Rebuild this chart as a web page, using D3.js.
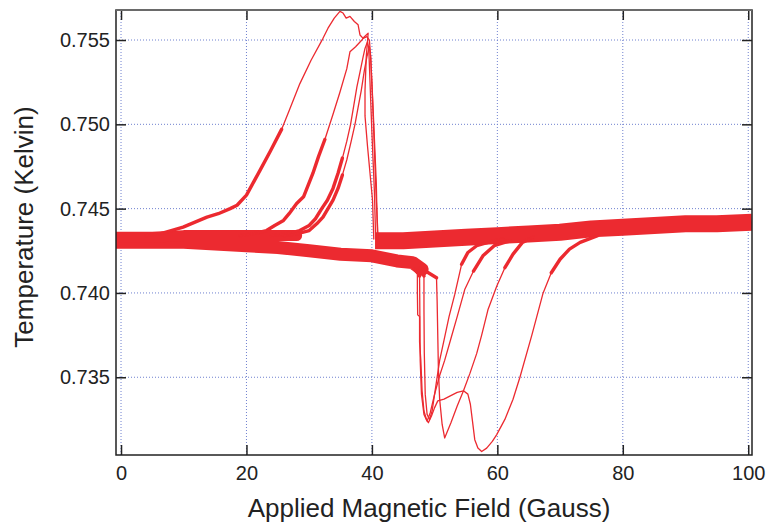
<!DOCTYPE html>
<html>
<head>
<meta charset="utf-8">
<script src="https://cdn.jsdelivr.net/npm/d3@7"></script>
<style>
  body { margin: 0; background: #fff; }
  text { font-family: "Liberation Sans", Arial, Helvetica, sans-serif; }
</style>
</head>
<body>
<svg id="chart" width="777" height="527"></svg>
<script>
// Tick values
const xTicks = [0, 20, 40, 60, 80, 100];
const yTicks = [0.735, 0.740, 0.745, 0.750, 0.755];

// Noisy baselines (field, temperature)
const lowerBand = [[-0.8, 0.7430], [5, 0.7430], [10, 0.7430], [15, 0.7429], [20, 0.7428],
  [25, 0.7427], [30, 0.7425], [35, 0.7423], [40, 0.7422], [44, 0.7419], [46.5, 0.7418],
  [48, 0.7414]];
const tailBand = [[28, 0.7434], [24, 0.7434], [20, 0.7434], [15, 0.7434], [10, 0.7434],
  [5, 0.7433], [-0.8, 0.7433]];
const upperBand = [[40.5, 0.7431], [45, 0.7431], [50, 0.7432], [55, 0.7433], [60, 0.7434],
  [65, 0.7435], [70, 0.7436], [75, 0.7438], [80, 0.7439], [85, 0.7440], [90, 0.7441],
  [95, 0.7441], [100.6, 0.7442]];

// Down-sweeps: jump at ~40 G, then decay back to baseline
const downA = [[41.0, 0.7432], [40.7, 0.7455], [40.4, 0.7485], [40.1, 0.7515], [39.8, 0.7540],
  [39.6, 0.7550], [39.2, 0.7552], [38.6, 0.7551], [38.1, 0.7553], [37.8, 0.7559],
  [37.2, 0.7561], [36.5, 0.7564], [35.9, 0.7563], [35.4, 0.7566], [34.9, 0.7567],
  [34.0, 0.7563], [33.0, 0.7557], [32.2, 0.7551], [30.3, 0.7538], [28.5, 0.7524],
  [26.8, 0.7508], [25.6, 0.7497], [23.8, 0.7484], [22.2, 0.7473], [20.0, 0.7458],
  [18.5, 0.7452], [17.4, 0.7450], [15.5, 0.7447], [13.7, 0.7445], [11.8, 0.7442],
  [9.9, 0.7439], [8.0, 0.7437], [6.2, 0.7435], [4.0, 0.7434]];
const downB = [[40.3, 0.7432], [40.1, 0.7455], [39.6, 0.7475], [39.3, 0.7487], [38.9, 0.7505],
  [38.9, 0.7520], [39.1, 0.7540], [39.4, 0.7554], [38.8, 0.7552], [38.4, 0.7550],
  [37.4, 0.7546], [36.5, 0.7543], [36.0, 0.7533], [34.9, 0.7519], [33.8, 0.7506],
  [32.5, 0.7491], [31.5, 0.7481], [30.6, 0.7471], [29.1, 0.7457], [28.0, 0.7453],
  [26.8, 0.7447], [25.9, 0.7443], [24.5, 0.7440], [23.2, 0.7437], [21.0, 0.7435],
  [19.0, 0.7434]];
const downC = [[40.6, 0.7432], [40.4, 0.7460], [40.0, 0.7495], [39.7, 0.7525], [39.5, 0.7545],
  [39.3, 0.7549], [38.9, 0.7545], [38.6, 0.7540], [38.1, 0.7531], [37.6, 0.7522],
  [37.1, 0.7511], [36.6, 0.7500], [36.0, 0.7490], [35.3, 0.7480], [34.6, 0.7471],
  [33.8, 0.7462], [32.9, 0.7455], [32.0, 0.7450], [31.0, 0.7444], [30.0, 0.7440],
  [28.5, 0.7437], [26.5, 0.7435], [24.0, 0.7434]];
const downD = [[40.9, 0.7432], [40.7, 0.7465], [40.3, 0.7500], [40.0, 0.7525], [39.8, 0.7540],
  [39.6, 0.7546], [39.2, 0.7540], [38.8, 0.7532], [38.3, 0.7520], [37.8, 0.7510],
  [37.3, 0.7500], [36.7, 0.7490], [36.0, 0.7479], [35.3, 0.7470], [34.6, 0.7462],
  [33.8, 0.7455], [33.0, 0.7450], [32.2, 0.7445], [31.2, 0.7441], [30.0, 0.7437],
  [28.0, 0.7435], [26.0, 0.7434]];

// Up-sweeps: dip near 47-51 G, then recovery to the upper baseline
const upE = [[47.5, 0.7415], [49.0, 0.7412], [50.3, 0.7409], [50.4, 0.7395], [50.5, 0.7375],
  [50.6, 0.7355], [50.8, 0.7337], [51.2, 0.7322], [51.6, 0.7314], [52.6, 0.7323],
  [53.6, 0.7333], [54.6, 0.7342], [55.6, 0.7352], [56.7, 0.7364], [57.5, 0.7375],
  [58.5, 0.7390], [59.9, 0.7404], [61.2, 0.7415], [62.5, 0.7423], [64.0, 0.7430],
  [65.7, 0.7433]];
const upF = [[46.8, 0.7414], [47.25, 0.7412], [47.25, 0.7400], [47.3, 0.7387], [47.6, 0.7386],
  [47.6, 0.7371], [47.8, 0.7360], [48.0, 0.7342], [48.3, 0.7330], [48.7, 0.7325],
  [49.0, 0.7323], [49.5, 0.7327], [50.0, 0.7332], [50.5, 0.7336], [51.5, 0.7337],
  [52.5, 0.7339], [53.6, 0.7341], [54.6, 0.7342], [55.3, 0.7340], [55.7, 0.7334],
  [56.0, 0.7325], [56.4, 0.7313], [56.9, 0.7308], [57.5, 0.7306], [58.3, 0.7308],
  [59.2, 0.7312], [59.9, 0.7316], [61.2, 0.7325], [62.5, 0.7337], [63.6, 0.7350],
  [65.5, 0.7375], [67.3, 0.7400], [68.6, 0.7412], [70.0, 0.7420], [71.5, 0.7426],
  [73.2, 0.7430], [76.0, 0.7434]];
const upG = [[47.9, 0.7413], [48.3, 0.7410], [48.3, 0.7390], [48.35, 0.7365], [48.5, 0.7340],
  [48.8, 0.7328], [49.2, 0.7325], [49.6, 0.7330], [50.2, 0.7345], [50.8, 0.7360],
  [51.5, 0.7372], [52.3, 0.7386], [53.2, 0.7399], [54.3, 0.7417], [55.3, 0.7424],
  [56.7, 0.7428], [58.5, 0.7430], [61.0, 0.7432]];
const upH = [[47.3, 0.7413], [47.6, 0.7410], [47.65, 0.7385], [47.7, 0.7360], [47.9, 0.7340],
  [48.3, 0.7328], [48.8, 0.7324], [49.3, 0.7329], [50.0, 0.7340], [50.8, 0.7351],
  [51.6, 0.7360], [52.6, 0.7373], [53.6, 0.7386], [54.8, 0.7402], [56.2, 0.7413],
  [57.7, 0.7422], [59.5, 0.7428], [62.0, 0.7431]];

const downSweeps = [downA, downB, downC, downD];
const upSweeps = [upE, upF, upG, upH];

const red = '#ec2a30';
const margin = {top: 10, right: 25, bottom: 72, left: 116};
const width = 777 - margin.left - margin.right;
const height = 527 - margin.top - margin.bottom;

const svg = d3.select('#chart');
const g = svg.append('g')
  .attr('transform', `translate(${margin.left},${margin.top})`);

const x = d3.scaleLinear().domain([-0.8, 100.6]).range([0, width]);
const y = d3.scaleLinear().domain([0.73039, 0.75678]).range([height, 0]);

// grid
const grid = g.append('g')
  .attr('stroke', '#6f80cf')
  .attr('stroke-width', 1)
  .attr('stroke-dasharray', '1,2');
grid.selectAll('.gx').data(xTicks).join('line')
  .attr('class', 'gx')
  .attr('x1', (d) => x(d)).attr('x2', (d) => x(d))
  .attr('y1', 0).attr('y2', height);
grid.selectAll('.gy').data(yTicks).join('line')
  .attr('class', 'gy')
  .attr('x1', 0).attr('x2', width)
  .attr('y1', (d) => y(d)).attr('y2', (d) => y(d));

g.append('clipPath').attr('id', 'plot-cp')
  .append('rect').attr('width', width).attr('height', height);

const makeLine = (keep = () => true) => d3.line()
  .defined(keep)
  .x((d) => x(d[0]))
  .y((d) => y(d[1]));
const line = makeLine();
// noisy parts of the transitions, close to the baseline
const noisyDown = makeLine((d) => d[1] <= 0.7500 && d[0] < 36);
const noisyUp = makeLine((d) => d[1] >= 0.7405);

const plot = g.append('g')
  .attr('clip-path', 'url(#plot-cp)')
  .attr('fill', 'none')
  .attr('stroke', red)
  .attr('stroke-linejoin', 'round')
  .attr('stroke-linecap', 'round');

// thick noisy baselines
plot.append('path').attr('d', line(lowerBand)).attr('stroke-width', 13);
plot.append('path').attr('d', line(tailBand)).attr('stroke-width', 11);
plot.append('path').attr('d', line(upperBand)).attr('stroke-width', 17)
  .attr('stroke-linecap', 'butt');

downSweeps.forEach((trace) => {
  plot.append('path').attr('d', noisyDown(trace)).attr('stroke-width', 3.4);
});
upSweeps.forEach((trace) => {
  plot.append('path').attr('d', noisyUp(trace)).attr('stroke-width', 3.4);
});

// thin traces
[...downSweeps, ...upSweeps].forEach((trace) => {
  plot.append('path').attr('d', line(trace)).attr('stroke-width', 1.3);
});

// axes, ticks pointing inwards
const styleAxis = (sel) => {
  sel.select('.domain').remove();
  sel.selectAll('.tick line').attr('stroke', '#222').attr('stroke-width', 1.5);
  sel.selectAll('text').attr('font-size', 20).attr('fill', '#222')
    .style('font-family', '"Liberation Sans", Arial, sans-serif');
};

g.append('g')
  .attr('transform', `translate(0,${height})`)
  .call(d3.axisBottom(x).tickValues(xTicks).tickSize(-10).tickSizeOuter(0).tickPadding(11))
  .call(styleAxis);
g.append('g')
  .call(d3.axisTop(x).tickValues(xTicks).tickSize(-10).tickSizeOuter(0).tickFormat(''))
  .call(styleAxis);
g.append('g')
  .call(d3.axisLeft(y).tickValues(yTicks).tickFormat(d3.format('.3f'))
    .tickSize(-10).tickSizeOuter(0).tickPadding(6))
  .call(styleAxis);
g.append('g')
  .attr('transform', `translate(${width},0)`)
  .call(d3.axisRight(y).tickValues(yTicks).tickSize(-10).tickSizeOuter(0).tickFormat(''))
  .call(styleAxis);

// frame
g.append('rect')
  .attr('width', width).attr('height', height)
  .attr('fill', 'none').attr('stroke', '#222').attr('stroke-width', 1.5);
g.append('line')
  .attr('x1', 0).attr('x2', width).attr('y1', 0).attr('y2', 0)
  .attr('stroke', '#6a6a6a').attr('stroke-width', 2);

// titles
svg.append('text')
  .attr('x', margin.left + width / 2 - 5)
  .attr('y', 517)
  .attr('text-anchor', 'middle')
  .attr('font-size', 26)
  .attr('fill', '#222')
  .text('Applied Magnetic Field (Gauss)');
svg.append('text')
  .attr('transform', 'translate(33,227) rotate(-90)')
  .attr('text-anchor', 'middle')
  .attr('font-size', 26)
  .attr('fill', '#222')
  .text('Temperature (Kelvin)');
</script>
</body>
</html>
